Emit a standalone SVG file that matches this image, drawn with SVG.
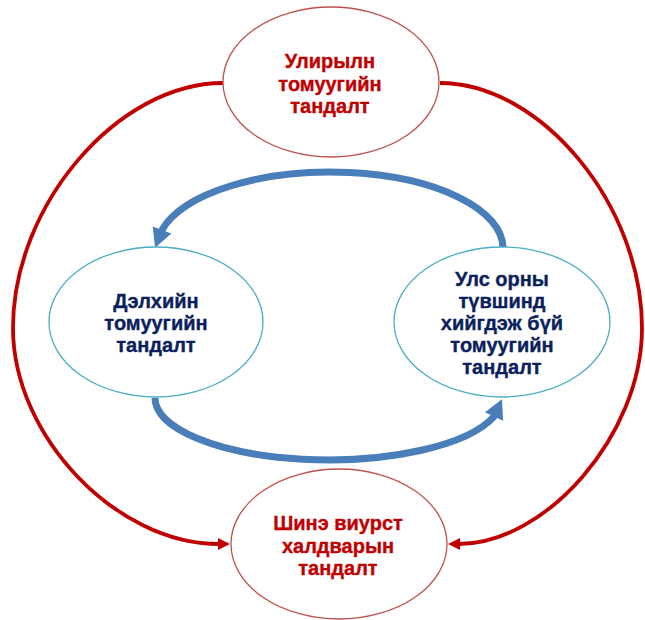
<svg xmlns="http://www.w3.org/2000/svg" width="645" height="620" viewBox="0 0 645 620">
  <style>
    .ered { fill: #FFFFFF; stroke: #C0504D; stroke-width: 1.3; }
    .eblue { fill: #FFFFFF; stroke: #4BACC6; stroke-width: 1.3; }
    .red-line { fill: none; stroke: #C00000; stroke-width: 3.8; marker-end: url(#arrRed); }
    .blue-line { fill: none; stroke: #4A7EBB; stroke-width: 7; marker-end: url(#arrBlue); }
    text { font-family: "Liberation Sans", Arial, sans-serif; font-weight: bold; font-size: 20px; text-anchor: middle; stroke-width: 0.35; }
    .tred { fill: #C00000; stroke: #C00000; }
    .tblue { fill: #0B1F5C; stroke: #0B1F5C; }
  </style>
  <defs>
    <marker id="arrRed" markerUnits="userSpaceOnUse" viewBox="0 0 12 12" markerWidth="12" markerHeight="12" refX="1" refY="6" orient="auto" overflow="visible">
      <path d="M0,0 L12,6 L0,12 z" fill="#C00000"/>
    </marker>
    <marker id="arrBlue" markerUnits="userSpaceOnUse" viewBox="0 0 19 20" markerWidth="19" markerHeight="20" refX="1" refY="10" orient="auto" overflow="visible">
      <path d="M0,0 L19,10 L0,20 z" fill="#4A7EBB"/>
    </marker>
  </defs>

  <g id="connectors">
    <path class="red-line" d="M223,83 C118,83 13,205 13,328 C13,436 116,544 219,544"/>
    <path class="red-line" d="M440,83 C541,83 642,205 642,328 C642,436 545,544 459,544"/>
    <path class="blue-line" d="M503,247 A173,76 0 0 0 162,230 l -0.36,0.93"/>
    <path class="blue-line" d="M155,398 A173.5,62 0 0 0 494,416.5 l 0.42,-0.91"/>
  </g>

  <g id="node-seasonal">
    <ellipse class="ered" cx="331" cy="82" rx="108" ry="75"/>
    <text class="tred" x="330" y="68">Улирылн</text>
    <text class="tred" x="330" y="91">томуугийн</text>
    <text class="tred" x="330" y="113">тандалт</text>
  </g>

  <g id="node-global">
    <ellipse class="eblue" cx="156" cy="322" rx="107" ry="75"/>
    <text class="tblue" x="156" y="308">Дэлхийн</text>
    <text class="tblue" x="156" y="330">томуугийн</text>
    <text class="tblue" x="156" y="352">тандалт</text>
  </g>

  <g id="node-national">
    <ellipse class="eblue" cx="502" cy="322" rx="108" ry="75"/>
    <text class="tblue" x="502" y="286">Улс орны</text>
    <text class="tblue" x="502" y="308">түвшинд</text>
    <text class="tblue" x="502" y="330">хийгдэж бүй</text>
    <text class="tblue" x="502" y="352">томуугийн</text>
    <text class="tblue" x="502" y="374">тандалт</text>
  </g>

  <g id="node-novel-virus">
    <ellipse class="ered" cx="339" cy="544" rx="108" ry="75"/>
    <text class="tred" x="338" y="530">Шинэ виурст</text>
    <text class="tred" x="338" y="553">халдварын</text>
    <text class="tred" x="338" y="575">тандалт</text>
  </g>
</svg>
